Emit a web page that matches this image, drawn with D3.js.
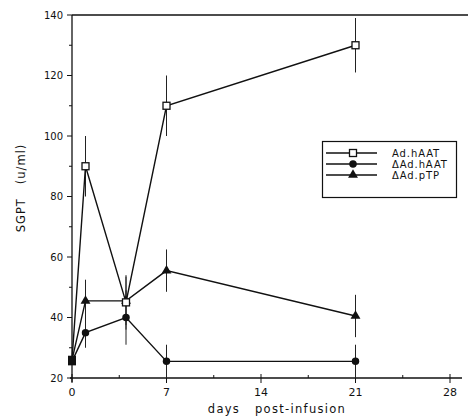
<!DOCTYPE html>
<html><head><meta charset="utf-8">
<script src="https://cdn.jsdelivr.net/npm/d3@7"></script>
<style>
body{margin:0;background:#fff;}
svg{display:block;}
text{font-family:"DejaVu Sans",sans-serif;fill:#111;}
</style></head><body>
<svg id="c" width="468" height="418"></svg>
<script>
const days = [0, 1, 4, 7, 21];
const seriesNames = ["Ad.hAAT", "ΔAd.hAAT", "ΔAd.pTP"];
const adHAAT = [26, 90, 45, 110, 130];
const adHAATErr = [0, 10, 9, 10, 9];
const dAdHAAT = [25.5, 35, 40, 25.5, 25.5];
const dAdHAATErr = [0, 5, 9, 5.5, 5.5];
const dAdPTP = [26, 45.5, 45.5, 55.5, 40.5];
const dAdPTPErr = [0, 7, 8, 7, 7];
const xTicks = [0, 7, 14, 21, 28];
const xMinor = [3.5, 10.5, 17.5, 24.5];
const yTicks = [20, 40, 60, 80, 100, 120, 140];
const yMinor = [30, 50, 70, 90, 110, 130];

const svg = d3.select("#c");
const x = d3.scaleLinear().domain([0, 28]).range([72, 450]);
const y = d3.scaleLinear().domain([20, 140]).range([378, 15]);

const ax = svg.append("g").attr("stroke", "#111").attr("fill", "none");
ax.append("line").attr("x1", x(0)).attr("x2", x(0)).attr("y1", y(140)).attr("y2", y(20)+4).attr("stroke-width", 1.3);
ax.append("line").attr("x1", x(0)-2).attr("x2", 462).attr("y1", y(20)).attr("y2", y(20)).attr("stroke-width", 1.3);
ax.append("line").attr("x1", x(0)).attr("x2", 468).attr("y1", y(140)).attr("y2", y(140)).attr("stroke-width", 1.3);

yTicks.forEach(t => {
  ax.append("line").attr("x1", x(0)-5).attr("x2", x(0)).attr("y1", y(t)).attr("y2", y(t));
  svg.append("text").attr("x", x(0)-9).attr("y", y(t)+3.5).attr("text-anchor", "end").attr("font-size", 10).text(t);
});
yMinor.forEach(t => {
  ax.append("line").attr("x1", x(0)-3).attr("x2", x(0)).attr("y1", y(t)).attr("y2", y(t));
});
xTicks.forEach(t => {
  ax.append("line").attr("x1", x(t)).attr("x2", x(t)).attr("y1", y(20)-4).attr("y2", y(20)+5);
  svg.append("text").attr("x", x(t)).attr("y", y(20)+18).attr("text-anchor", "middle").attr("font-size", 11).text(t);
});
xMinor.forEach(t => {
  ax.append("line").attr("x1", x(t)).attr("x2", x(t)).attr("y1", y(20)-3).attr("y2", y(20));
});

svg.append("text").attr("x", 277).attr("y", 413).attr("text-anchor", "middle").attr("font-size", 11.5)
  .style("white-space", "pre").style("letter-spacing", "1.3px").text("days   post-infusion");
svg.append("text").attr("transform", "translate(25,188) rotate(-90)").attr("text-anchor", "middle").attr("font-size", 11.5)
  .style("white-space", "pre").style("letter-spacing", "1px").text("SGPT   (u/ml)");

const series = [
  {name: seriesNames[0], v: adHAAT, e: adHAATErr, m: "square"},
  {name: seriesNames[1], v: dAdHAAT, e: dAdHAATErr, m: "circle"},
  {name: seriesNames[2], v: dAdPTP, e: dAdPTPErr, m: "triangle"}
];
const line = d3.line().x(d => x(d[0])).y(d => y(d[1]));

function marker(g, m, cx, cy) {
  if (m === "square") {
    g.append("rect").attr("x", cx-3.5).attr("y", cy-3.5).attr("width", 7).attr("height", 7)
      .attr("fill", "#fff").attr("stroke", "#111").attr("stroke-width", 1.3);
  } else if (m === "circle") {
    g.append("path").attr("d", d3.symbol(d3.symbolCircle, 44)()).attr("transform", `translate(${cx},${cy})`).attr("fill", "#111");
  } else {
    g.append("path").attr("d", d3.symbol(d3.symbolTriangle, 42)()).attr("transform", `translate(${cx},${cy})`).attr("fill", "#111");
  }
}

const plot = svg.append("g");
series.forEach(s => {
  const pts = days.map((d, i) => [d, s.v[i]]);
  days.forEach((d, i) => {
    if (s.e[i] > 0) {
      plot.append("line").attr("x1", x(d)).attr("x2", x(d)).attr("y1", y(s.v[i]+s.e[i])).attr("y2", y(s.v[i]-s.e[i]))
        .attr("stroke", "#222").attr("stroke-width", 1);
    }
  });
  plot.append("path").attr("d", line(pts)).attr("fill", "none").attr("stroke", "#111").attr("stroke-width", 1.4);
});
[2, 1, 0].forEach(k => {
  const s = series[k];
  days.forEach((d, i) => {
    if (d === 0) {
      plot.append("rect").attr("x", x(d)-4).attr("y", y(s.v[i])-4).attr("width", 8).attr("height", 8).attr("fill", "#111");
    } else marker(plot, s.m, x(d), y(s.v[i]));
  });
});

const lg = svg.append("g");
lg.append("rect").attr("x", 322.5).attr("y", 141.5).attr("width", 134).attr("height", 56)
  .attr("fill", "#fff").attr("stroke", "#111").attr("stroke-width", 1.2);
series.forEach((s, i) => {
  const yy = 153 + i*11;
  lg.append("line").attr("x1", 326).attr("x2", 377).attr("y1", yy).attr("y2", yy).attr("stroke", "#111").attr("stroke-width", 1.3);
  marker(lg, s.m, 353, yy);
  lg.append("text").attr("x", 392).attr("y", yy+3.5).attr("font-size", 10).style("letter-spacing", "0.9px").text(s.name);
});
</script>
</body></html>
